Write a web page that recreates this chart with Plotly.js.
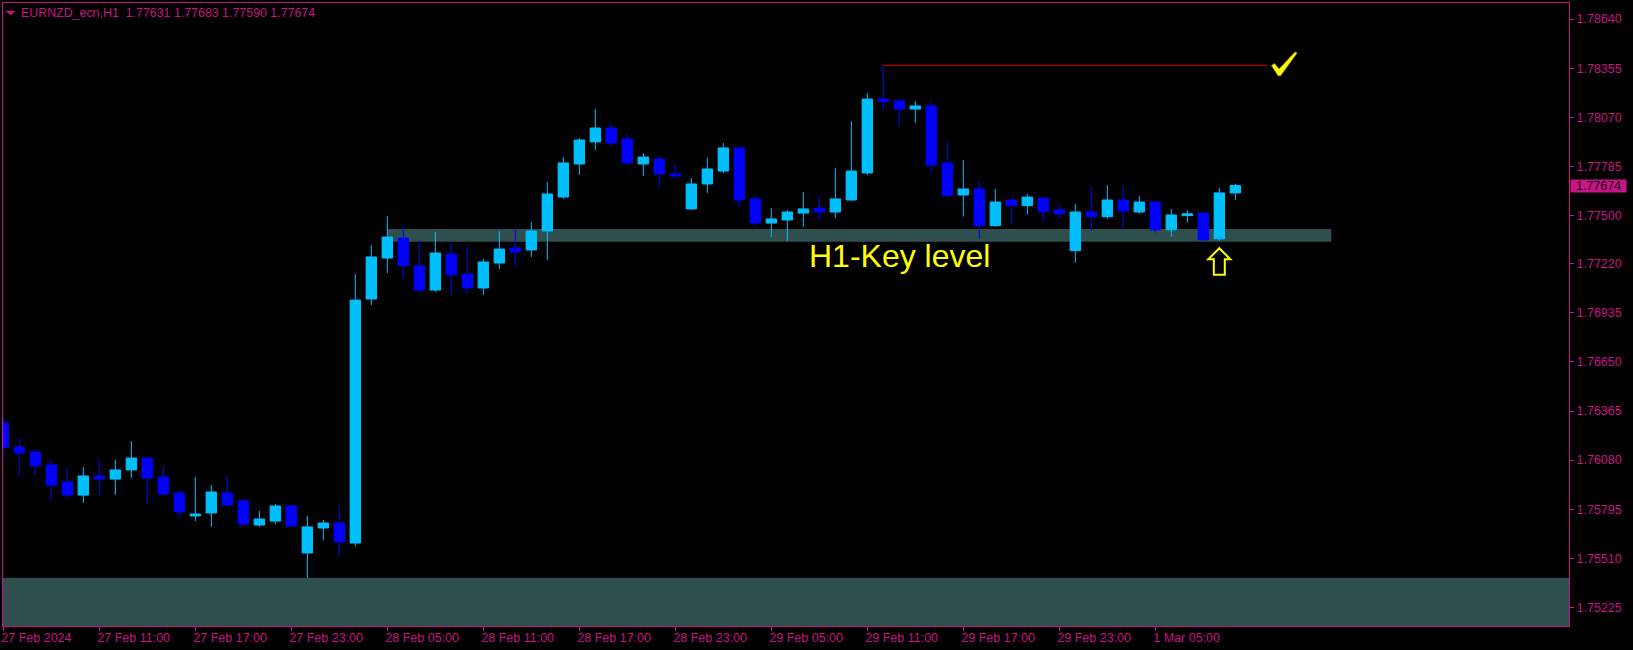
<!DOCTYPE html>
<html>
<head>
<meta charset="utf-8">
<script src="https://cdn.plot.ly/plotly-3.0.1.min.js"></script>
<style>
  html, body { margin: 0; padding: 0; background: #000; }
  #chart { width: 1633px; height: 650px; }
</style>
</head>
<body>
<div id="chart"></div>
<script>
// ---- data (EURNZD_ecn, H1) ----
const open = [1.76295,1.76156,1.76127,1.76052,1.75953,1.75877,1.75988,1.75970,1.76023,1.76092,
  1.75982,1.75889,1.75756,1.75773,1.75889,1.75843,1.75703,1.75726,1.75814,1.75541,
  1.75686,1.75715,1.75599,1.77015,1.77253,1.77369,1.77207,1.77067,1.77276,1.77160,
  1.77079,1.77224,1.77311,1.77300,1.77410,1.77607,1.77799,1.77927,1.78008,1.77944,
  1.77799,1.77828,1.77741,1.77538,1.77683,1.77758,1.77892,1.77596,1.77456,1.77474,
  1.77514,1.77543,1.77520,1.77590,1.77747,1.78176,1.78165,1.78118,1.78136,1.77805,
  1.77619,1.77654,1.77441,1.77590,1.77557,1.77601,1.77532,1.77296,1.77520,1.77493,
  1.77590,1.77520,1.77578,1.77417,1.77499,1.77514,1.77365,1.77631];
const high = [1.76328,1.76208,1.76143,1.76085,1.76034,1.76040,1.76085,1.76081,1.76191,1.76095,
  1.76046,1.75906,1.75982,1.75935,1.75988,1.75854,1.75785,1.75825,1.75819,1.75756,
  1.75732,1.75819,1.77160,1.77329,1.77497,1.77439,1.77358,1.77404,1.77346,1.77317,
  1.77247,1.77410,1.77422,1.77462,1.77694,1.77839,1.77950,1.78118,1.78037,1.77973,
  1.77863,1.77851,1.77799,1.77718,1.77834,1.77921,1.77898,1.77619,1.77543,1.77532,
  1.77636,1.77613,1.77776,1.78048,1.78211,1.78372,1.78182,1.78165,1.78165,1.77932,
  1.77822,1.77694,1.77654,1.77601,1.77625,1.77605,1.77567,1.77567,1.77671,1.77677,
  1.77673,1.77613,1.77582,1.77538,1.77532,1.77520,1.77660,1.77683];
const low = [1.76143,1.75988,1.75994,1.75843,1.75854,1.75831,1.75877,1.75877,1.75976,1.75825,
  1.75872,1.75750,1.75726,1.75692,1.75814,1.75692,1.75692,1.75709,1.75692,1.75397,
  1.75616,1.75523,1.75581,1.76980,1.77166,1.77131,1.77050,1.77056,1.77044,1.77044,
  1.77038,1.77189,1.77207,1.77259,1.77242,1.77596,1.77735,1.77880,1.77898,1.77799,
  1.77729,1.77665,1.77718,1.77535,1.77631,1.77747,1.77555,1.77433,1.77375,1.77352,
  1.77433,1.77468,1.77485,1.77584,1.77735,1.78112,1.78019,1.78037,1.77747,1.77612,
  1.77493,1.77365,1.77435,1.77447,1.77505,1.77464,1.77481,1.77226,1.77412,1.77481,
  1.77417,1.77509,1.77400,1.77377,1.77458,1.77357,1.77354,1.77590];
const close = [1.76152,1.76121,1.76047,1.75935,1.75877,1.75988,1.75970,1.76023,1.76092,1.75976,
  1.75883,1.75779,1.75767,1.75895,1.75819,1.75709,1.75738,1.75814,1.75697,1.75692,
  1.75715,1.75605,1.77009,1.77259,1.77375,1.77208,1.77067,1.77282,1.77155,1.77079,
  1.77230,1.77305,1.77288,1.77410,1.77625,1.77805,1.77938,1.78008,1.77921,1.77805,
  1.77839,1.77741,1.77729,1.77683,1.77770,1.77892,1.77590,1.77456,1.77480,1.77520,
  1.77538,1.77520,1.77596,1.77758,1.78176,1.78161,1.78118,1.78136,1.77793,1.77615,
  1.77654,1.77441,1.77578,1.77557,1.77607,1.77522,1.77510,1.77520,1.77493,1.77590,
  1.77526,1.77578,1.77417,1.77503,1.77510,1.77359,1.77631,1.77674];

const xTickIdx = [0, 6, 12, 18, 24, 30, 36, 42, 48, 54, 60, 66, 72];
const xTickLabels = ["27 Feb 2024","27 Feb 11:00","27 Feb 17:00","27 Feb 23:00","28 Feb 05:00",
  "28 Feb 11:00","28 Feb 17:00","28 Feb 23:00","29 Feb 05:00","29 Feb 11:00","29 Feb 17:00",
  "29 Feb 23:00","1 Mar 05:00"];
const yTickVals = [1.78640,1.78355,1.78070,1.77785,1.77500,1.77220,1.76935,1.76650,1.76365,1.76080,1.75795,1.75510,1.75225];
const yTickLabels = ["1.78640","1.78355","1.78070","1.77785","1.77500","1.77220","1.76935","1.76650","1.76365","1.76080","1.75795","1.75510","1.75225"];

const keyLevel = [1.77348, 1.77422];   // H1 key level zone (bottom, top)
const keyZoneIdx = [24, 83];           // zone start / end (bar index)
const supportTop = 1.75397;            // lower zone top
const targetLine = {from: 55, to: 79, price: 1.78372};
const signalArrow = {idx: 76, price: 1.77310};
const checkMark = {idx: 80, price: 1.78379};
const keyText = {idx: 56, price: 1.77262, text: "H1-Key level"};
const header = "EURNZD_ecn,H1  1.77631 1.77683 1.77590 1.77674";
const lastPrice = close[close.length - 1];

const MAG = "#C71585";
const BULL = "#00BFFF";
const BEAR = "#0000FF";
const ZONE = "#2F4F4F";
const FONT = "Liberation Sans, Arial, sans-serif";

const xIdx = open.map((_, i) => i);

const trace = {
  type: "candlestick",
  x: xIdx, open: open, high: high, low: low, close: close,
  increasing: {line: {color: BULL, width: 1}, fillcolor: BULL},
  decreasing: {line: {color: BEAR, width: 1}, fillcolor: BEAR},
  whiskerwidth: 0,
  hoverinfo: "skip",
  showlegend: false
};

const layout = {
  width: 1633, height: 650,
  margin: {l: 3, r: 64, t: 3, b: 24, pad: 0},
  paper_bgcolor: "#000000",
  plot_bgcolor: "#000000",
  showlegend: false,
  boxgap: 0.35,
  boxgroupgap: 0,
  font: {family: FONT, size: 12.5, color: MAG},
  xaxis: {
    type: "linear",
    range: [-0.02, 97.855],
    rangeslider: {visible: false},
    showgrid: false, zeroline: false,
    showline: true, mirror: true, linecolor: MAG, linewidth: 1,
    ticks: "outside", ticklen: 4, tickcolor: MAG, tickwidth: 1,
    tickmode: "array", tickvals: xTickIdx, ticktext: xTickLabels,
    ticklabelposition: "outside right",
    ticklabelshift: -3,
    tickfont: {family: FONT, size: 12.5, color: MAG},
    fixedrange: true
  },
  yaxis: {
    side: "right",
    range: [1.75117, 1.787335],
    showgrid: false, zeroline: false,
    showline: true, mirror: true, linecolor: MAG, linewidth: 1,
    ticks: "outside", ticklen: 4, tickcolor: MAG, tickwidth: 1,
    tickmode: "array", tickvals: yTickVals, ticktext: yTickLabels,
    tickfont: {family: FONT, size: 12.5, color: MAG},
    fixedrange: true
  },
  shapes: [
    {type: "rect", layer: "below", xref: "paper", yref: "y",
     x0: 0, x1: 1, y0: 1.74, y1: supportTop,
     fillcolor: ZONE, line: {width: 0}},
    {type: "rect", layer: "below", xref: "x", yref: "y",
     x0: keyZoneIdx[0], x1: keyZoneIdx[1], y0: keyLevel[0], y1: keyLevel[1],
     fillcolor: ZONE, line: {width: 0}},
    {type: "line", layer: "above", xref: "x", yref: "y",
     x0: targetLine.from, x1: targetLine.to, y0: targetLine.price, y1: targetLine.price,
     line: {color: "#E00000", width: 1}},
    {type: "path", layer: "above", xref: "x", yref: "y",
     xsizemode: "pixel", ysizemode: "pixel",
     xanchor: signalArrow.idx, yanchor: signalArrow.price,
     path: "M0,0 L11,-11 L5.5,-11 L5.5,-26.5 L-5.5,-26.5 L-5.5,-11 L-11,-11 Z",
     line: {color: "#FFFF00", width: 2}, fillcolor: "rgba(0,0,0,0)"},
    {type: "path", layer: "above", xref: "x", yref: "y",
     xsizemode: "pixel", ysizemode: "pixel",
     xanchor: checkMark.idx, yanchor: checkMark.price,
     path: "M-11.8,-1.5 L-8.8,0.5 L-4.3,-5 L11.7,12 L13.7,11 L-2.8,-11.7 L-5.3,-11.7 Z",
     line: {color: "#9a9a00", width: 0.8}, fillcolor: "#FFFF00"},
    {type: "path", layer: "above", xref: "paper", yref: "paper",
     xsizemode: "pixel", ysizemode: "pixel", xanchor: 0, yanchor: 1,
     path: "M3,-8 L12,-8 L7.5,-12 Z",
     line: {color: MAG, width: 0.5}, fillcolor: MAG}
  ],
  annotations: [
    {xref: "paper", yref: "paper", x: 0, y: 1, xanchor: "left", yanchor: "top",
     xshift: 16, yshift: -1, showarrow: false, text: header,
     font: {family: FONT, size: 12.4, color: MAG}},
    {xref: "x", yref: "y", x: keyText.idx, y: keyText.price,
     xanchor: "center", yanchor: "middle", showarrow: false, text: keyText.text,
     font: {family: FONT, size: 32, color: "#FFFF00"}},
    {xref: "paper", yref: "y", x: 1, y: lastPrice, xanchor: "left", yanchor: "middle",
     xshift: 1, showarrow: false, text: lastPrice.toFixed(5),
     bgcolor: MAG, width: 55, height: 12, borderpad: 0, align: "center",
     font: {family: FONT, size: 12.5, color: "#1a0010"}}
  ]
};

Plotly.newPlot("chart", [trace], layout, {staticPlot: true, displayModeBar: false});
</script>
</body>
</html>
